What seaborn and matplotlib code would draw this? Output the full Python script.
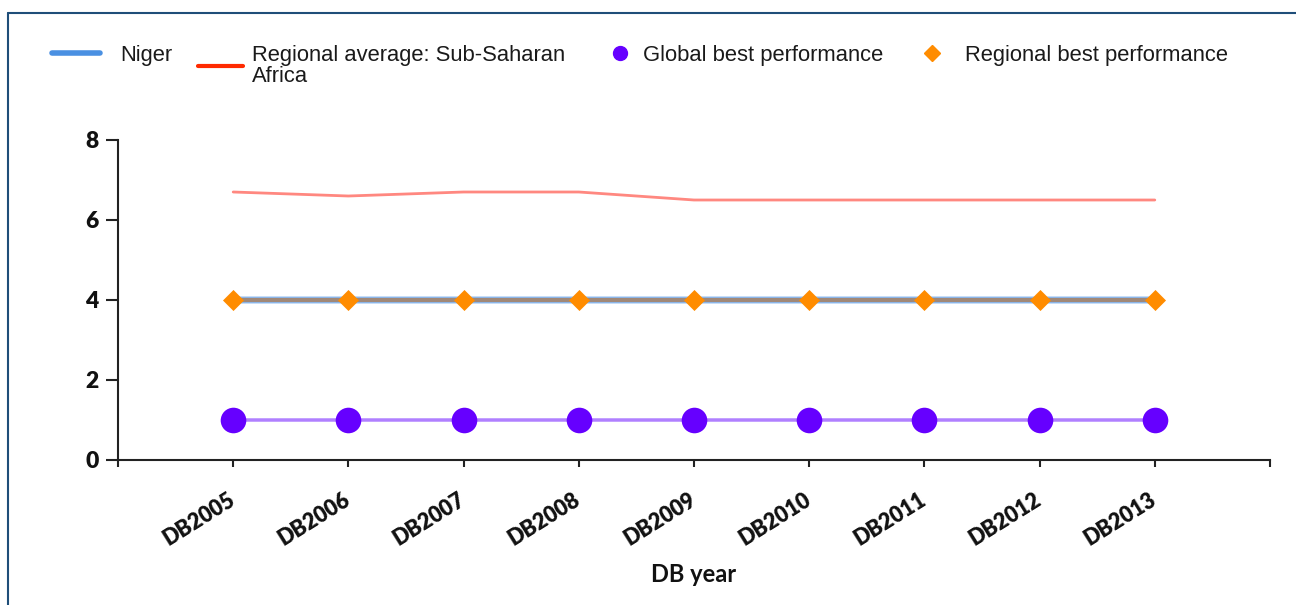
import matplotlib
matplotlib.use("Agg")
import matplotlib.pyplot as plt
import matplotlib.transforms as mtransforms
import seaborn as sns
import pandas as pd
from matplotlib.lines import Line2D

years = ["DB2005", "DB2006", "DB2007", "DB2008", "DB2009",
         "DB2010", "DB2011", "DB2012", "DB2013"]
niger = [4, 4, 4, 4, 4, 4, 4, 4, 4]
regional_avg = [6.7, 6.6, 6.7, 6.7, 6.5, 6.5, 6.5, 6.5, 6.5]
global_best = [1, 1, 1, 1, 1, 1, 1, 1, 1]
regional_best = [4, 4, 4, 4, 4, 4, 4, 4, 4]

df = pd.DataFrame({"year": years, "niger": niger, "avg": regional_avg,
                   "gbest": global_best, "rbest": regional_best})

sns.set_style("white")
plt.rcParams['font.family'] = ['Liberation Sans', 'DejaVu Sans']
bold_font = ["Lato", "DejaVu Sans"]

W, H = 1296, 605
fig = plt.figure(figsize=(W / 100, H / 100), dpi=100)
ax = fig.add_axes([118 / W, 1 - 460 / H, (1270 - 118) / W, 320 / H])

sns.lineplot(data=df, x="year", y="avg", ax=ax, color="#ff6a60", alpha=0.8,
             linewidth=2, sort=False, legend=False)
sns.lineplot(data=df, x="year", y="niger", ax=ax, color="#8ab8f0",
             linewidth=5, sort=False, legend=False)
sns.lineplot(data=df, x="year", y="rbest", ax=ax, color="#a08878",
             linewidth=3, sort=False, legend=False)
sns.scatterplot(data=df, x="year", y="rbest", ax=ax, color="#ff8c00",
                marker="D", s=115, linewidth=0, zorder=5, legend=False)
sns.lineplot(data=df, x="year", y="gbest", ax=ax, color="#b080ff",
             linewidth=2.5, sort=False, legend=False)
sns.scatterplot(data=df, x="year", y="gbest", ax=ax, color="#6600ff",
                marker="o", s=340, linewidth=0, zorder=5, legend=False)
for ln in ax.lines:
    ln.set_snap(False)

ax.set_xlim(-1, len(years))
ax.set_ylim(0, 8)
ax.set_xticks(range(-1, len(years) + 1))
ax.set_xticklabels([""] + years + [""], rotation=32, ha="right", va="center",
                   rotation_mode="anchor", fontsize=15.5, fontweight="heavy",
                   family=bold_font, color="#111111")
shift = mtransforms.ScaledTranslation(10 / 100, 0, fig.dpi_scale_trans)
for lab in ax.get_xticklabels():
    lab.set_transform(lab.get_transform() + shift)
ax.set_yticks([0, 2, 4, 6, 8])
ax.set_yticklabels(["0", "2", "4", "6", "8"], fontsize=16.5, fontweight="heavy",
                   family=bold_font, color="#111111")
ax.tick_params(axis="x", length=5, width=1.5, color="#222222",
               direction="out", bottom=True, pad=22)
ax.tick_params(axis="y", length=9, width=1.5, color="#222222",
               direction="out", left=True, pad=5)
for s in ["top", "right"]:
    ax.spines[s].set_visible(False)
for s in ["left", "bottom"]:
    ax.spines[s].set_color("#222222")
    ax.spines[s].set_linewidth(1.5)
ax.set_xlabel("DB year", fontsize=17, fontweight="bold",
              family=bold_font, labelpad=10, color="#111111")
ax.set_ylabel("")

# legend entries placed one by one, as in the reference layout
fs = 15.8
px = fs * 100 / 72
entries = [
    (Line2D([], [], color="#4a90e2", linewidth=4), "Niger",
     52, 55, 48 / px, 20 / px),
    (Line2D([], [], color="#ff2a00", linewidth=3),
     "Regional average: Sub-Saharan\nAfrica", 198, 66, 45 / px, 9 / px),
    (Line2D([], [], color="#6600ff", marker="o", linestyle="none",
            markersize=10), "Global best performance",
     620 - px / 2, 55, 1.0, 12 / px),
    (Line2D([], [], color="#ff8c00", marker="D", linestyle="none",
            markersize=8), "Regional best performance",
     932 - px / 2, 55, 1.0, 22 / px),
]
for handle, label, x0, yc, hl, tp in entries:
    leg = fig.legend([handle], [label], loc="center left",
                     bbox_to_anchor=(x0 / W, 1 - yc / H), frameon=False,
                     fontsize=fs, handlelength=hl, handletextpad=tp,
                     borderpad=0, borderaxespad=0)
    for t in leg.get_texts():
        t.set_linespacing(0.95)
        t.set_color("#1a1a1a")

# panel frame (left and top edges)
fig.add_artist(Line2D([8 / W, 8 / W], [0, 1 - 13 / H], color="#1f4e79",
                      linewidth=1.5, transform=fig.transFigure))
fig.add_artist(Line2D([8 / W, 1], [1 - 13 / H, 1 - 13 / H], color="#1f4e79",
                      linewidth=1.5, transform=fig.transFigure))

fig.savefig("out.png", dpi=100)
